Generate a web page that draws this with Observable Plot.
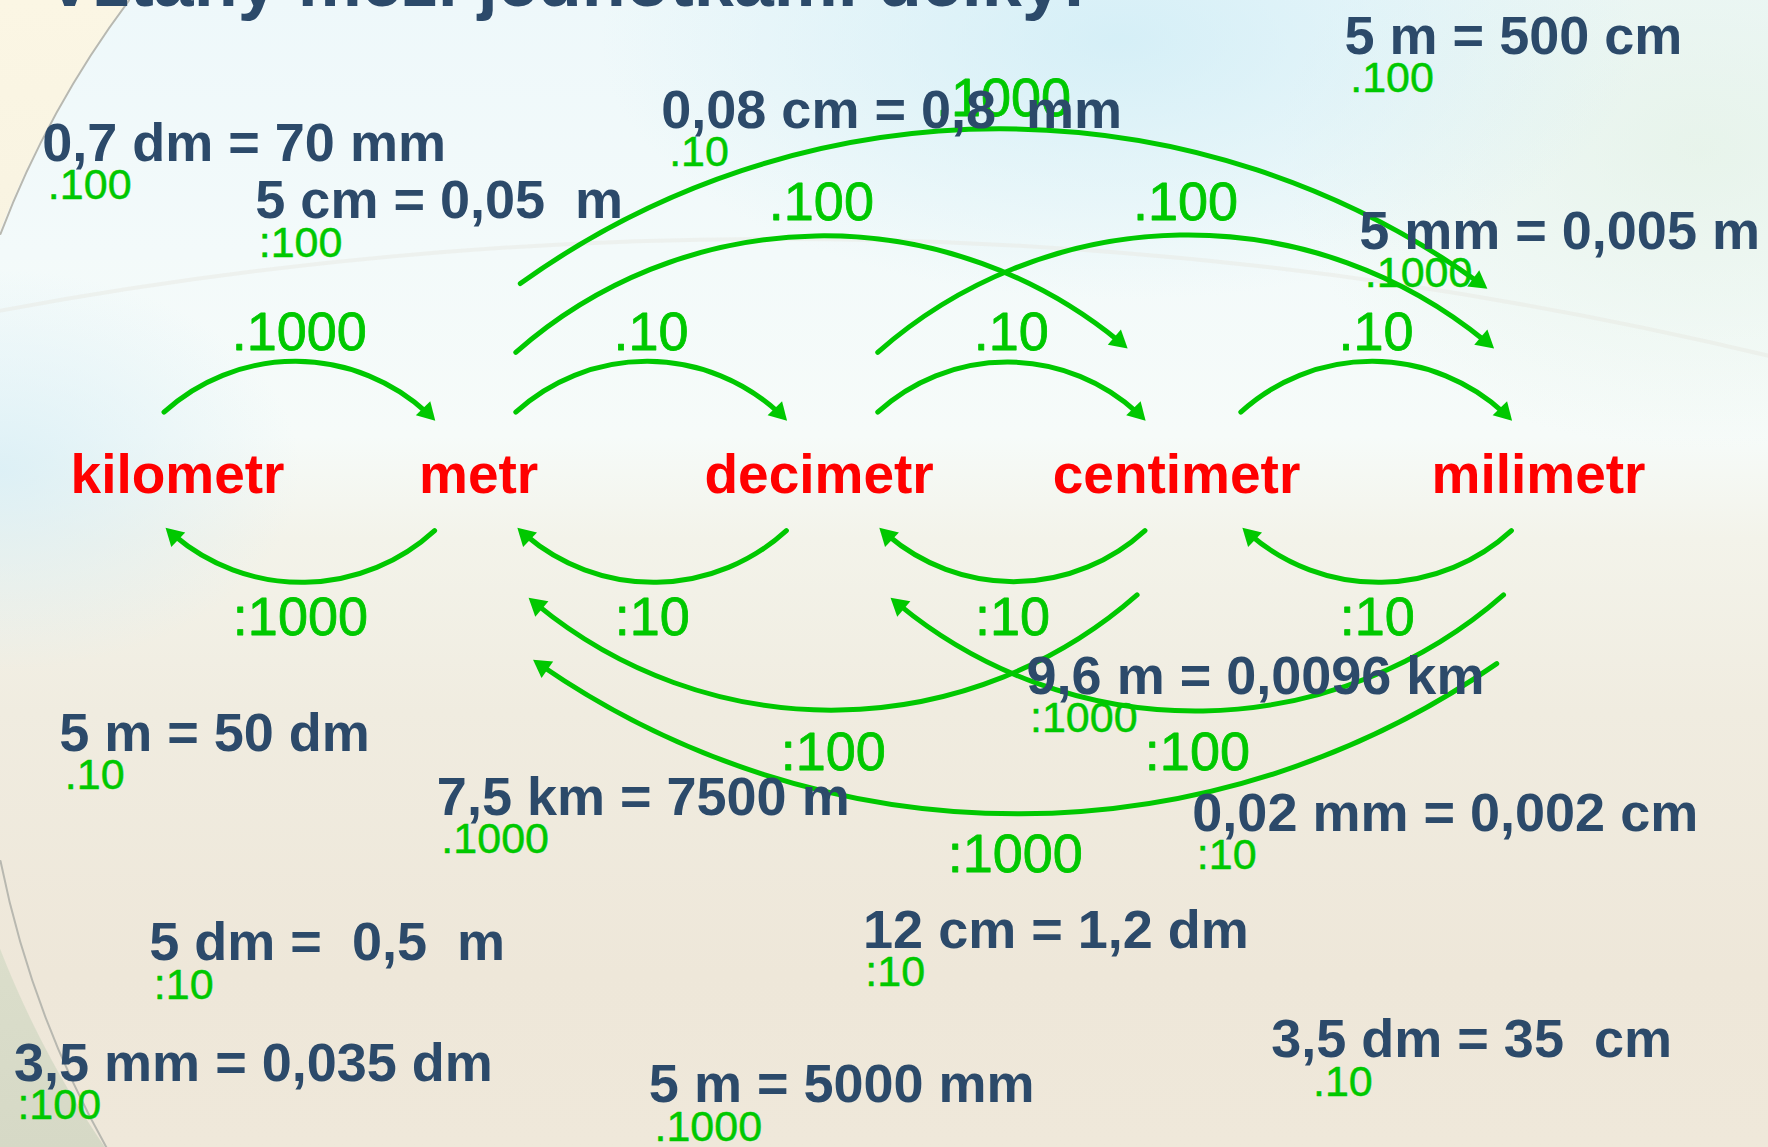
<!DOCTYPE html>
<html><head><meta charset="utf-8">
<script src="https://cdn.jsdelivr.net/npm/d3@7"></script>
<script src="https://cdn.jsdelivr.net/npm/@observablehq/plot@0.6"></script>
<style>
html,body{margin:0;padding:0;}
body{width:1768px;height:1147px;overflow:hidden;position:relative;
 background:
  radial-gradient(ellipse 520px 260px at 1120px 40px, rgba(205,236,246,0.75), rgba(205,236,246,0)),
  radial-gradient(ellipse 420px 300px at 1700px 150px, rgba(225,240,225,0.6), rgba(225,240,225,0)),
  radial-gradient(ellipse 300px 200px at 0px 470px, rgba(215,238,246,0.8), rgba(215,238,246,0)),
  linear-gradient(to bottom, #eef8fa 0%, #f3fafa 22%, #f6fbf9 38%, #f3f3ea 47%, #f0ece0 62%, #eee7d9 85%, #efe8da 100%);
}
#outside{position:absolute;left:0;top:0;width:220px;height:1147px;
 background:linear-gradient(to bottom,#fbf6e4 0%,#f6f1df 40%,#dde0cd 75%,#d6d9c6 100%);
 -webkit-mask-image:radial-gradient(circle 986px at 919px 590px, transparent 986px, black 987px);
 mask-image:radial-gradient(circle 986px at 919px 590px, transparent 986px, black 987px);}
#chart{position:absolute;left:0;top:0;}
#chart text{white-space:pre;}
</style></head><body><div id="outside"></div><div id="chart"></div><script>
// ---- content ----
const title = "Vztahy mezi jednotkami délky:";
const units = ["kilometr", "metr", "decimetr", "centimetr", "milimetr"];
// [from unit, to unit, operation]
const multiplyArcs = [[0,1,".1000"],[1,2,".10"],[2,3,".10"],[3,4,".10"],[1,3,".100"],[2,4,".100"],[1,4,".1000"]];
const divideArcs   = [[1,0,":1000"],[2,1,":10"],[3,2,":10"],[4,3,":10"],[3,1,":100"],[4,2,":100"],[4,1,":1000"]];
const equalities = [
  "0,7 dm = 70 mm", "5 cm = 0,05  m", "0,08 cm = 0,8  mm", "5 m = 500 cm",
  "5 mm = 0,005 m", "9,6 m = 0,0096 km", "5 m = 50 dm", "7,5 km = 7500 m",
  "0,02 mm = 0,002 cm", "12 cm = 1,2 dm", "5 dm =  0,5  m", "3,5 dm = 35  cm",
  "3,5 mm = 0,035 dm", "5 m = 5000 mm"];
const operations = [".100", ":100", ".10", ".100", ".1000", ":1000", ".10", ".1000", ":10", ":10", ":10", ".10", ":100", ".1000"];

// ---- layout (slide coordinate space 1568 x 1017) ----
const unitX = [157, 424, 726, 1043, 1364];
const unitBaseline = 437;
const unitRight = [145, 457, 778, 1100, null];
const unitLeft  = [null, 385, 697, 1015, 1340];
const topLevel = {1:{y1:365,y2:372,dx1:0,dx2:0,bend:44,ly:310}, 2:{y1:312,y2:308,dx1:0,dx2:-16,bend:41,ly:195}, 3:{y1:251,y2:255,dx1:4,dx2:-22,bend:36,ly:102}};
const botLevel = {1:{y1:470,y2:468,dx1:0,dx2:2,bend:43,ly:563}, 2:{y1:527,y2:530,dx1:-7,dx2:12,bend:41,ly:682}, 3:{y1:588,y2:585,dx1:-13,dx2:16,bend:35,ly:773}};
const eqX = [37, 226, 586, 1192, 1205, 910, 52, 387, 1057, 765, 132, 1127, 12, 575];
const eqY = [142, 193, 113, 47, 220, 615, 665, 722, 736, 840, 851, 937, 958, 977];
const opDX = [5, 3, 7, 5, 5, 3, 5, 4, 4, 2, 4, 37, 3, 5];
const opDY = 34;

const GREEN = "#00c800", NAVY = "#2c4a6a";
const HEAD_BACK = 9.5; // centroid of the triangle head behind the tip

function arcRow(x1, y1, x2, y2, bend, op, ly) {
  const chord = Math.atan2(y2 - y1, x2 - x1) * 180 / Math.PI;
  const endDir = chord + bend;          // tangent direction at the tip
  const r = endDir * Math.PI / 180;
  return {x1, y1, x2, y2, bend, op, lx:(x1+x2)/2, ly,
          hx: x2 - HEAD_BACK*Math.cos(r), hy: y2 - HEAD_BACK*Math.sin(r), rot: endDir + 90};
}
const arcs = [
  ...multiplyArcs.map(([f,t,op]) => { const L = topLevel[t-f];
    return arcRow(unitRight[f] + L.dx1, L.y1, unitLeft[t] + L.dx2, L.y2, L.bend, op, L.ly); }),
  ...divideArcs.map(([f,t,op]) => { const L = botLevel[f-t];
    return arcRow(unitLeft[f] + L.dx1, L.y1, unitRight[t] + L.dx2, L.y2, L.bend, op, L.ly); })
];
const examples = equalities.map((eq,i) => ({eq, op:operations[i], x:eqX[i], y:eqY[i], ox:eqX[i]+opDX[i], oy:eqY[i]+opDY}));

const W = 1768, H = 1147;
const decor = [
  {x1:0, y1:275, x2:1568, y2:315, bend:12, stroke:"#e6e6e0", w:4, o:0.45},
  {x1:114, y1:0, x2:0, y2:207, bend:-8, stroke:"#b8b8b0", w:2, o:1},
  {x1:0, y1:763, x2:94, y2:1017, bend:-9, stroke:"#b8b8b0", w:2, o:1}
];
const chart = Plot.plot({
  width: W, height: H, margin: 0,
  x: {domain:[0,1568], range:[0,W], axis:null},
  y: {domain:[0,1017], range:[0,H], axis:null},
  style: {background:"transparent", overflow:"visible"},
  marks: [
    ...decor.map(d => Plot.arrow([d], {x1:"x1", y1:"y1", x2:"x2", y2:"y2", bend:d.bend, headLength:0, stroke:d.stroke, strokeWidth:d.w, strokeOpacity:d.o})),
    ...arcs.map(a => Plot.arrow([a], {x1:"x1", y1:"y1", x2:"x2", y2:"y2", bend:a.bend, stroke:GREEN, strokeWidth:5, headLength:0, insetEnd:10})),
    Plot.dot(arcs, {x:"hx", y:"hy", rotate:"rot", symbol:"triangle", r:7.5, fill:GREEN, stroke:"none"}),
    Plot.text(arcs, {x:"lx", y:"ly", text:"op", fill:GREEN, fontSize:54, fontFamily:"Liberation Sans", textAnchor:"middle", lineAnchor:"bottom", stroke:GREEN, strokeWidth:0.8}),
    Plot.text(units, {x:(d,i)=>unitX[i], y:()=>unitBaseline, text:d=>d, fill:"#ff0000", fontSize:55, fontWeight:"bold", fontFamily:"Liberation Sans", textAnchor:"middle", lineAnchor:"bottom"}),
    Plot.text([title], {x:()=>40, y:()=>5, text:d=>d, fill:NAVY, fontSize:72, fontWeight:"bold", fontFamily:"Liberation Sans", textAnchor:"start", lineAnchor:"bottom"}),
    Plot.text(examples, {x:"ox", y:"oy", text:"op", fill:GREEN, fontSize:43, fontFamily:"Liberation Sans", textAnchor:"start", lineAnchor:"bottom", stroke:GREEN, strokeWidth:0.5}),
    Plot.text(examples, {x:"x", y:"y", text:"eq", fill:NAVY, fontSize:54, fontWeight:"bold", fontFamily:"Liberation Sans", textAnchor:"start", lineAnchor:"bottom"})
  ]
});
document.getElementById("chart").appendChild(chart);
</script></body></html>
